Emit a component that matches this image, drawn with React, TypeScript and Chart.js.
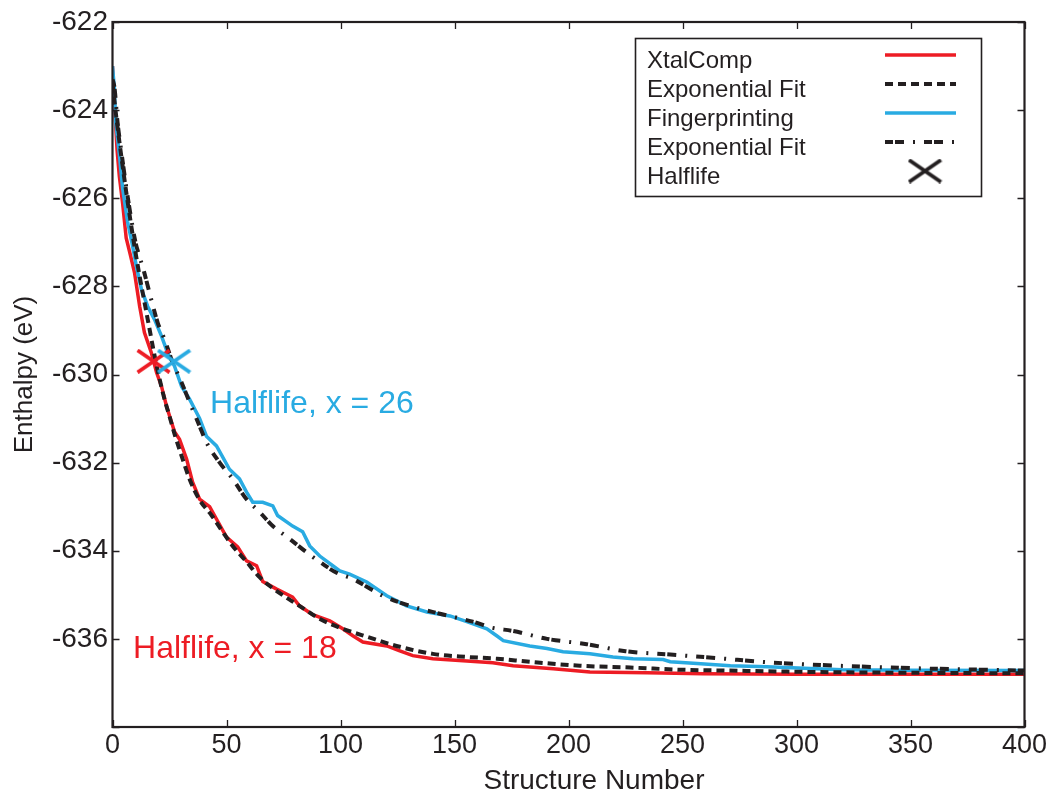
import React, { useEffect, useRef } from 'react';
import { Chart, registerables } from 'chart.js';

Chart.register(...registerables);

// ---------------- data ----------------
const seriesLabels = ['XtalComp', 'Exponential Fit', 'Fingerprinting', 'Exponential Fit', 'Halflife'];
const xAxisTitle = 'Structure Number';
const yAxisTitle = 'Enthalpy (eV)';

const xtalX = [0, 1, 2, 3, 4.4, 6, 7.9, 9.7, 11.9, 14, 17, 19.3, 21.5, 23.7, 27.2, 29.4, 32.5, 35.1, 38.2, 42.6, 45.6, 50, 54.9, 58.8, 63.2, 65.9, 72, 79, 82, 87.8, 95.3, 101, 105.4, 109.8, 120.3, 126, 131.7, 140.5, 155.4, 166.8, 175.7, 193.3, 209.4, 234.5, 259, 300, 350, 400];
const xtalY = [-623.0, -624.0, -624.9, -625.5, -626.1, -626.9, -627.3, -627.7, -628.45, -629.05, -629.5, -629.95, -630.27, -630.72, -631.3, -631.47, -631.92, -632.44, -632.83, -633.0, -633.28, -633.69, -633.91, -634.23, -634.34, -634.7, -634.87, -635.05, -635.25, -635.45, -635.59, -635.77, -635.93, -636.07, -636.16, -636.27, -636.38, -636.45, -636.5, -636.54, -636.61, -636.68, -636.75, -636.77, -636.79, -636.8, -636.8, -636.8];

const xtalFitX = [0, 2, 4, 6, 8, 10, 12, 14, 16, 18, 20, 22.5, 25, 27.5, 30, 34, 38, 43.5, 48.3, 52.7, 58.8, 64.5, 70.3, 78, 82, 91, 101, 111.5, 126, 140.5, 155.4, 168.6, 183, 205, 227, 249, 270, 305, 350, 400];
const xtalFitY = [-623.4, -624.3, -625.1, -625.85, -626.55, -627.2, -627.8, -628.35, -628.9, -629.45, -629.95, -630.5, -630.95, -631.4, -631.8, -632.4, -632.83, -633.2, -633.57, -633.89, -634.25, -634.6, -634.85, -635.12, -635.25, -635.55, -635.77, -635.95, -636.18, -636.34, -636.41, -636.45, -636.52, -636.61, -636.65, -636.7, -636.72, -636.75, -636.77, -636.78];

const fingerX = [0, 0.8, 1.4, 3, 4.4, 6.6, 8.5, 10.5, 12.7, 15.4, 18.4, 21.5, 24.1, 27.2, 30.3, 33.8, 38.2, 41.2, 45.6, 51.3, 55.7, 58.8, 61.5, 65.9, 70.3, 72.4, 79, 83.4, 86.5, 90.9, 96.6, 99.7, 104, 111.5, 120.3, 129, 137.9, 148, 155.4, 164.2, 168.5, 171.4, 183, 190.6, 197.6, 209.4, 219.5, 228.3, 241.5, 244.6, 256.4, 271, 287, 320, 350, 400];
const fingerY = [-623.0, -623.5, -624.27, -625.0, -625.76, -626.53, -627.0, -627.55, -628.07, -628.45, -628.75, -629.13, -629.5, -629.81, -630.27, -630.56, -631.0, -631.4, -631.62, -632.15, -632.37, -632.67, -632.9, -632.9, -632.98, -633.2, -633.44, -633.57, -633.89, -634.12, -634.34, -634.46, -634.53, -634.71, -635.02, -635.25, -635.39, -635.48, -635.61, -635.77, -635.93, -636.04, -636.16, -636.22, -636.29, -636.34, -636.41, -636.45, -636.47, -636.52, -636.56, -636.61, -636.63, -636.7, -636.71, -636.72];

const fingerFitX = [0, 0.9, 2.2, 3.5, 5.7, 7.9, 10.1, 12, 14, 17, 19.8, 22.8, 26.3, 30.3, 33.8, 38.2, 41.2, 47, 52.7, 58.8, 64.5, 70.3, 77.7, 85, 92.2, 98.3, 105.4, 118.5, 130.4, 143.6, 158, 166.8, 175.6, 190.6, 208, 225, 246, 266, 287, 341, 400];
const fingerFitY = [-623.3, -623.5, -624.27, -624.79, -625.63, -626.37, -627.0, -627.35, -627.7, -628.3, -628.82, -629.2, -629.72, -630.18, -630.63, -631.17, -631.54, -632.0, -632.37, -632.83, -633.12, -633.44, -633.73, -634.03, -634.3, -634.5, -634.64, -635.02, -635.25, -635.43, -635.61, -635.75, -635.82, -636.0, -636.12, -636.28, -636.36, -636.44, -636.53, -636.65, -636.72];

const halflifeX = [18, 27];
const halflifeY = [-629.7, -629.7];
const halflifeNotes = ['Halflife, x = 18', 'Halflife, x = 26'];

const xTickValues = [0, 50, 100, 150, 200, 250, 300, 350, 400];
const yTickValues = [-622, -624, -626, -628, -630, -632, -634, -636, -638];

// ---------------- styles ----------------
const INK = '#231f20';
const RED = '#ed1c24';
const BLUE = '#29abe2';
const FONT = '"Liberation Sans", Arial, Helvetica, sans-serif';

function makeCross(color: string): HTMLCanvasElement {
  const c = document.createElement('canvas');
  c.width = 35;
  c.height = 25;
  const g = c.getContext('2d')!;
  g.strokeStyle = color;
  g.lineWidth = 3.8;
  g.lineCap = 'butt';
  g.beginPath();
  g.moveTo(1.5, 1.5);
  g.lineTo(33.5, 23.5);
  g.moveTo(1.5, 23.5);
  g.lineTo(33.5, 1.5);
  g.stroke();
  return c;
}

const pts = (xs: number[], ys: number[]) => xs.map((x, i) => ({ x, y: ys[i] }));

export default function App() {
  const ref = useRef<HTMLCanvasElement>(null);

  useEffect(() => {
    const canvas = ref.current;
    if (!canvas) return;
    const redX = makeCross(RED);
    const blueX = makeCross(BLUE);
    const blackX = makeCross(INK);

    const framePlugin = {
      id: 'frameTicks',
      afterDatasetsDraw(chart: any) {
        const ctx = chart.ctx;
        const { left, right, top, bottom } = chart.chartArea;
        const xs = chart.scales.x;
        const ys = chart.scales.y;
        ctx.save();
        ctx.strokeStyle = INK;
        ctx.lineWidth = 1.3;
        ctx.beginPath();
        xTickValues.forEach((v) => {
          const px = Math.round(xs.getPixelForValue(v)) + 0.5;
          ctx.moveTo(px, bottom);
          ctx.lineTo(px, bottom - 7);
          ctx.moveTo(px, top);
          ctx.lineTo(px, top + 7);
        });
        yTickValues.forEach((v) => {
          const py = Math.round(ys.getPixelForValue(v)) + 0.5;
          ctx.moveTo(left, py);
          ctx.lineTo(left + 7, py);
          ctx.moveTo(right, py);
          ctx.lineTo(right - 7, py);
        });
        ctx.stroke();
        ctx.lineWidth = 2.2;
        ctx.strokeRect(left, top, right - left, bottom - top);

        // annotations
        ctx.font = '32px ' + FONT;
        ctx.textBaseline = 'alphabetic';
        ctx.textAlign = 'left';
        ctx.fillStyle = RED;
        ctx.fillText(halflifeNotes[0], xs.getPixelForValue(9), ys.getPixelForValue(-636.43));
        ctx.fillStyle = BLUE;
        ctx.fillText(halflifeNotes[1], xs.getPixelForValue(42.8), ys.getPixelForValue(-630.87));

        // x axis title
        ctx.font = '28px ' + FONT;
        ctx.fillStyle = INK;
        ctx.textAlign = 'center';
        ctx.fillText(xAxisTitle, 594, 789);
        ctx.restore();
      },
    };

    const legendPlugin = {
      id: 'boxLegend',
      afterDraw(chart: any) {
        const ctx = chart.ctx;
        const ds = chart.data.datasets;
        ctx.save();
        ctx.fillStyle = '#ffffff';
        ctx.fillRect(635, 38, 347, 159);
        ctx.strokeStyle = INK;
        ctx.lineWidth = 1.6;
        ctx.strokeRect(635.5, 38.5, 346, 158);
        ctx.font = '24px ' + FONT;
        ctx.textBaseline = 'alphabetic';
        ctx.textAlign = 'left';
        ds.forEach((d: any, i: number) => {
          const base = 68 + i * 29;
          ctx.fillStyle = INK;
          ctx.fillText(d.label, 647, base);
          const sy = base - 13;
          if (d.showLine === false) {
            ctx.drawImage(blackX, 925 - 17.5, sy - 12.5);
          } else {
            ctx.strokeStyle = d.borderColor;
            ctx.lineWidth = d.borderWidth;
            ctx.setLineDash(d.borderDash || []);
            ctx.beginPath();
            ctx.moveTo(885, sy);
            ctx.lineTo(956, sy);
            ctx.stroke();
            ctx.setLineDash([]);
          }
        });
        ctx.restore();
      },
    };

    const chart = new Chart(canvas, {
      type: 'line',
      data: {
        datasets: [
          {
            label: seriesLabels[0],
            data: pts(xtalX, xtalY),
            borderColor: RED,
            borderWidth: 3.5,
            pointRadius: 0,
            tension: 0,
            order: 4,
          },
          {
            label: seriesLabels[1],
            data: pts(xtalFitX, xtalFitY),
            borderColor: INK,
            borderWidth: 4,
            borderDash: [8, 5],
            pointRadius: 0,
            cubicInterpolationMode: 'monotone',
            order: 1,
          },
          {
            label: seriesLabels[2],
            data: pts(fingerX, fingerY),
            borderColor: BLUE,
            borderWidth: 3.5,
            pointRadius: 0,
            tension: 0,
            order: 3,
          },
          {
            label: seriesLabels[3],
            data: pts(fingerFitX, fingerFitY),
            borderColor: INK,
            borderWidth: 4,
            borderDash: [8, 2, 9, 9, 2, 9],
            pointRadius: 0,
            cubicInterpolationMode: 'monotone',
            order: 2,
          },
          {
            label: seriesLabels[4],
            data: pts(halflifeX, halflifeY),
            showLine: false,
            borderColor: INK,
            backgroundColor: INK,
            pointStyle: [redX, blueX] as any,
            pointRadius: 12,
            order: 0,
          },
        ],
      },
      options: {
        responsive: false,
        devicePixelRatio: 1,
        animation: false,
        events: [],
        layout: { padding: { top: 22, right: 22.5, left: 0, bottom: 0 } },
        plugins: {
          legend: { display: false },
          tooltip: { enabled: false },
        },
        scales: {
          x: {
            type: 'linear',
            min: 0,
            max: 400,
            grid: { display: false, drawTicks: false },
            border: { display: false },
            ticks: {
              stepSize: 50,
              color: INK,
              padding: 2,
              font: { family: FONT, size: 27 },
              maxRotation: 0,
              autoSkip: false,
            },
            title: { display: false },
            afterFit: (s: any) => {
              s.height = 64;
              s.paddingLeft = 0;
              s.paddingRight = 0;
            },
          },
          y: {
            type: 'linear',
            min: -638,
            max: -622,
            grid: { display: false, drawTicks: false },
            border: { display: false },
            ticks: {
              stepSize: 2,
              color: INK,
              padding: 4.5,
              font: { family: FONT, size: 28 },
              callback: (v: any) => (Number(v) === -638 ? '' : String(v)),
            },
            title: {
              display: true,
              text: yAxisTitle,
              color: INK,
              font: { family: FONT, size: 26, lineHeight: 1 },
              padding: { top: 12, bottom: 0 },
            },
            afterFit: (s: any) => {
              s.width = 112.5;
              s.paddingTop = 0;
              s.paddingBottom = 0;
            },
          },
        },
      },
      plugins: [framePlugin, legendPlugin],
    } as any);

    return () => chart.destroy();
  }, []);

  return (
    <div style={{ position: 'absolute', left: 0, top: 0, width: 1047, height: 791, background: '#ffffff' }}>
      <canvas ref={ref} width={1047} height={791} style={{ display: 'block', width: 1047, height: 791 }} />
    </div>
  );
}
